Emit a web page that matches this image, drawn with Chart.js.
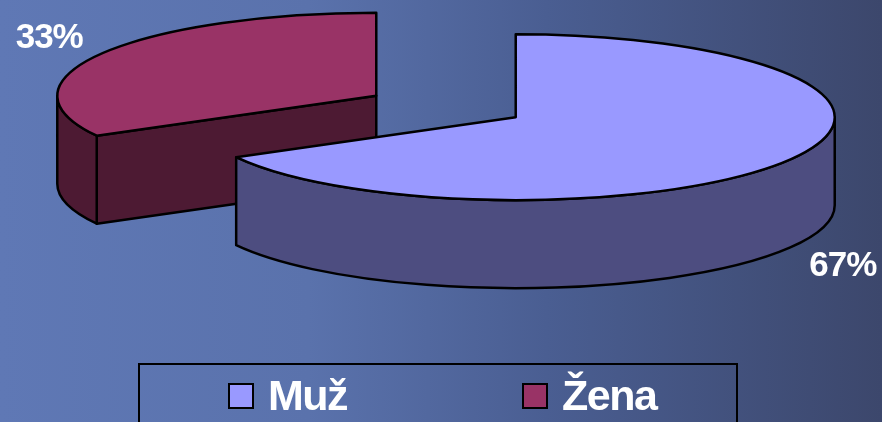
<!DOCTYPE html>
<html lang="cs">
<head>
  <meta charset="UTF-8">
  <title>Muž / Žena</title>
  <script src="https://cdn.jsdelivr.net/npm/chart.js"></script>
  <style>
    * {
      box-sizing: border-box;
      margin: 0;
      padding: 0;
    }

    body {
      width: 882px;
      height: 422px;
      overflow: hidden;
      position: relative;
      background: linear-gradient(90deg, #5f78b5 0%, #5a72ac 35%, #4a5e92 62%, #3c476c 100%);
      font-family: "Liberation Sans", Arial, sans-serif;
    }

    #chart {
      position: absolute;
      left: 0;
      top: 0;
    }

    .legend {
      position: absolute;
      left: 138px;
      top: 363px;
      width: 600px;
      height: 70px;
      border: 2px solid #000;
    }

    .legend-item {
      position: absolute;
      top: 0;
      height: 61px;
      display: flex;
      align-items: center;
      color: #fff;
      font-weight: bold;
      font-size: 43px;
      letter-spacing: -1.5px;
    }

    .legend-box {
      width: 26px;
      height: 26px;
      border: 2px solid #000;
      margin-right: 14px;
    }
  </style>
</head>
<body>
  <canvas id="chart" width="882" height="422"></canvas>
  <div class="legend" id="legend"></div>

  <script>
    const categories = ['Muž', 'Žena'];
    const values = [67, 33];
    const topColors = ['#9999ff', '#993366'];
    const wallColors = ['#4d4d80', '#4d1a33'];

    const tilt = 0.26;
    const depth = 88;
    const explode = 81;

    // the pie is flattened and pushed down by hand, Chart.js has no 3D
    // arc offset option also grows the radius, so the explode is done here
    const pie3d = {
      id: 'pie3d',
      beforeDatasetsDraw(chart) {
        const ctx = chart.ctx;
        const arcs = chart.getDatasetMeta(0).data;

        // back slice first, the big one covers it
        [1, 0].forEach((i) => {
          const arc = arcs[i];
          const mid = (arc.startAngle + arc.endAngle) / 2;
          const dx = Math.cos(mid) * explode;
          const dy = Math.sin(mid) * explode * tilt;
          const cx = arc.x + dx;
          const cy = arc.y + dy;
          const rx = arc.outerRadius;
          const ry = arc.outerRadius * tilt;

          ctx.save();
          ctx.lineWidth = 2.5;
          ctx.lineJoin = 'round';
          ctx.strokeStyle = '#000';
          ctx.fillStyle = wallColors[i];

          // cut faces that look at the viewer
          [[arc.startAngle, Math.cos(arc.startAngle) < -0.001], [arc.endAngle, Math.cos(arc.endAngle) > 0.001]].forEach(([a, visible]) => {
            if (!visible) return;
            const px = cx + Math.cos(a) * rx;
            const py = cy + Math.sin(a) * ry;
            ctx.beginPath();
            ctx.moveTo(cx, cy);
            ctx.lineTo(px, py);
            ctx.lineTo(px, py + depth);
            ctx.lineTo(cx, cy + depth);
            ctx.closePath();
            ctx.fill();
            ctx.stroke();
          });

          // outer wall, only the front half of the ellipse
          const from = Math.max(arc.startAngle, 0);
          const to = Math.min(arc.endAngle, Math.PI);
          if (to > from) {
            ctx.beginPath();
            ctx.ellipse(cx, cy, rx, ry, 0, from, to);
            ctx.ellipse(cx, cy + depth, rx, ry, 0, to, from, true);
            ctx.closePath();
            ctx.fill();
            ctx.stroke();
          }
          ctx.restore();

          // top face
          ctx.save();
          ctx.translate(cx, cy);
          ctx.scale(1, tilt);
          ctx.translate(-arc.x, -arc.y);
          arc.draw(ctx);
          ctx.restore();

          ctx.save();
          ctx.lineWidth = 2.5;
          ctx.lineJoin = 'round';
          ctx.strokeStyle = '#000';
          ctx.beginPath();
          ctx.moveTo(cx, cy);
          ctx.ellipse(cx, cy, rx, ry, 0, arc.startAngle, arc.endAngle);
          ctx.closePath();
          ctx.stroke();
          ctx.restore();

          // percent label
          const down = Math.sin(mid) > 0;
          ctx.save();
          ctx.fillStyle = '#fff';
          ctx.font = 'bold 35px "Liberation Sans", Arial, sans-serif';
          ctx.letterSpacing = '-1px';
          ctx.textAlign = 'center';
          ctx.textBaseline = 'middle';
          ctx.fillText(
            values[i] + '%',
            cx + Math.cos(mid) * 380,
            cy + Math.sin(mid) * 380 * tilt + (down ? depth + 11 : -7)
          );
          ctx.restore();
        });
        return false;
      }
    };

    new Chart(document.getElementById('chart').getContext('2d'), {
      type: 'pie',
      data: {
        labels: categories,
        datasets: [{
          data: values,
          backgroundColor: topColors,
          borderWidth: 0
        }]
      },
      options: {
        responsive: false,
        animation: false,
        events: [],
        radius: 319,
        layout: {
          padding: { left: 10, right: 0, top: 0, bottom: 209 }
        },
        plugins: {
          legend: { display: false },
          tooltip: { enabled: false }
        }
      },
      plugins: [pie3d]
    });

    const legendX = [88, 382];
    const legend = document.getElementById('legend');
    categories.forEach((name, i) => {
      const item = document.createElement('div');
      item.className = 'legend-item';
      item.style.left = legendX[i] + 'px';
      const box = document.createElement('span');
      box.className = 'legend-box';
      box.style.background = topColors[i];
      item.appendChild(box);
      item.appendChild(document.createTextNode(name));
      legend.appendChild(item);
    });
  </script>
</body>
</html>
